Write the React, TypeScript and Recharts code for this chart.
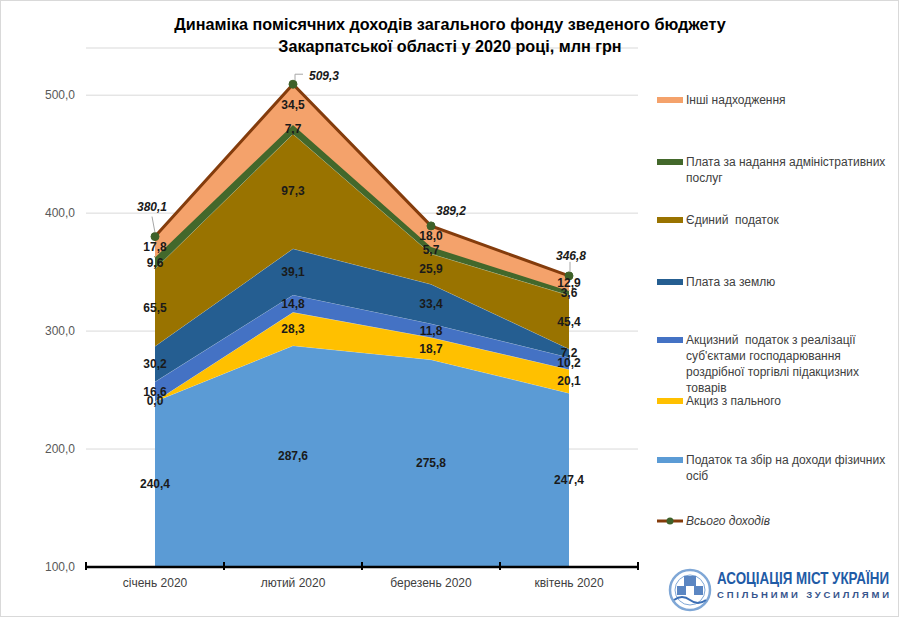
import React from 'react';
import { ComposedChart, Area, Line, XAxis, YAxis, CartesianGrid, LabelList } from 'recharts';

const MONTHS = ['січень 2020', 'лютий 2020', 'березень 2020', 'квітень 2020'];
const PDFO = [240.4, 287.6, 275.8, 247.4];
const FUEL_EXCISE = [0.0, 28.3, 18.7, 20.1];
const RETAIL_EXCISE = [16.6, 14.8, 11.8, 10.2];
const LAND_FEE = [30.2, 39.1, 33.4, 7.2];
const SINGLE_TAX = [65.5, 97.3, 25.9, 45.4];
const ADMIN_FEE = [9.6, 7.7, 5.7, 3.6];
const OTHER = [17.8, 34.5, 18.0, 12.9];
const TOTAL = [380.1, 509.3, 389.2, 346.8];
const Y_TICKS = [100, 200, 300, 400, 500];
const Y_MIN = 100;
const Y_MAX = 540;

const TITLE_LINES = [
  'Динаміка помісячних доходів загального фонду зведеного бюджету',
  'Закарпатської області у 2020 році, млн грн',
];
const TOTAL_NAME = 'Всього доходів';
const LOGO_LINES = ['АСОЦІАЦІЯ МІСТ УКРАЇНИ', 'СПІЛЬНИМИ ЗУСИЛЛЯМИ'];

// bottom to top
const SERIES = [
  { key: 'pdfo', name: ['Податок та збір на доходи фізичних', 'осіб'], values: PDFO, color: '#5B9BD5' },
  { key: 'fuel', name: ['Акциз з пального'], values: FUEL_EXCISE, color: '#FFC000' },
  { key: 'retail', name: ['Акцизний  податок з реалізації', "суб'єктами господарювання", 'роздрібної торгівлі підакцизних', 'товарів'], values: RETAIL_EXCISE, color: '#4472C4' },
  { key: 'land', name: ['Плата за землю'], values: LAND_FEE, color: '#255E91' },
  { key: 'single', name: ['Єдиний  податок'], values: SINGLE_TAX, color: '#997300' },
  { key: 'admin', name: ['Плата за надання адміністративних', 'послуг'], values: ADMIN_FEE, color: '#43682B' },
  { key: 'other', name: ['Інші надходження'], values: OTHER, color: '#F4A26B' },
];

const data = MONTHS.map((m, i) => {
  const row: any = { idx: i, month: m, total: TOTAL[i] };
  let cum = 0;
  SERIES.forEach((s) => {
    const v = s.values[i];
    const base = Math.max(cum, Y_MIN);
    const top = cum + v;
    row[s.key] = v;
    row['mid_' + s.key] = (base + top) / 2;
    cum = top;
  });
  return row;
});

const fmt = (v: number) => Number(v).toFixed(1).replace('.', ',');

const FONT = '"Liberation Sans", Arial, sans-serif';

const XTick = (props: any) => {
  const { x, y, payload } = props;
  const v = payload.value;
  if (Number.isInteger(v)) {
    return (
      <text x={x} y={y + 20} textAnchor="middle" fontSize={12} fill="#404040" fontFamily={FONT}>
        {MONTHS[v]}
      </text>
    );
  }
  return <line x1={x} x2={x} y1={y - 5} y2={y + 3} stroke="#000" strokeWidth={2} />;
};

const MidLabel = (props: any) => {
  const { x, y, value } = props;
  return (
    <text x={x} y={y} dy={4} textAnchor="middle" fontSize={12} fontWeight={700} fill="#1a1a1a" fontFamily={FONT}>
      {fmt(value)}
    </text>
  );
};

const TOTAL_LABEL_LAYOUT = [
  { dx: -3, dy: -30, anchor: 'middle', leader: [[0, -4], [-3, -20]] },
  { dx: 16, dy: -8, anchor: 'start', leader: [[2, -4], [2, -10], [10, -10]] },
  { dx: 20, dy: -15, anchor: 'middle', leader: null },
  { dx: 2, dy: -20, anchor: 'middle', leader: [[1, -4], [1, -14]] },
];

const TotalLabel = (props: any) => {
  const { x, y, value, index } = props;
  const l = TOTAL_LABEL_LAYOUT[index];
  return (
    <g>
      {l.leader && (
        <polyline
          points={l.leader.map((p: number[]) => `${x + p[0]},${y + p[1]}`).join(' ')}
          fill="none"
          stroke="#A6A6A6"
          strokeWidth={1}
        />
      )}
      <text x={x + l.dx} y={y + l.dy} dy={4} textAnchor={l.anchor} fontSize={12} fontWeight={700} fontStyle="italic" fill="#1a1a1a" fontFamily={FONT}>
        {fmt(value)}
      </text>
    </g>
  );
};

const LEGEND_ORDER = ['other', 'admin', 'single', 'land', 'retail', 'fuel', 'pdfo'];
const LEGEND_Y = [100, 162, 220, 282, 340, 401, 460];
const LEGEND_TOTAL_Y = 521;

export default function App() {
  return (
    <div style={{ position: 'absolute', left: 0, top: 0, width: 899, height: 617, background: '#fff', fontFamily: FONT }}>
      <div style={{ position: 'absolute', left: 0, top: 0 }}>
        <ComposedChart width={899} height={617} data={data} margin={{ top: 48, right: 261, bottom: 0, left: 0 }}>
          <CartesianGrid vertical={false} stroke="#D9D9D9" />
          <XAxis
            dataKey="idx"
            type="number"
            domain={[-0.5, 3.5]}
            ticks={[-0.5, 0, 0.5, 1, 1.5, 2, 2.5, 3, 3.5]}
            interval={0}
            tick={<XTick />}
            tickLine={false}
            tickSize={0}
            tickMargin={0}
            height={50}
            axisLine={{ stroke: '#000', strokeWidth: 2.5 }}
          />
          <YAxis
            type="number"
            domain={[Y_MIN, Y_MAX]}
            ticks={Y_TICKS}
            allowDataOverflow
            axisLine={false}
            tickLine={false}
            tickSize={0}
            tickMargin={11}
            width={86}
            tick={{ fill: '#595959', fontSize: 12, fontFamily: FONT }}
            tickFormatter={fmt}
          />
          {SERIES.map((s) => (
            <Area
              key={s.key}
              type="linear"
              dataKey={s.key}
              stackId="s"
              fill={s.color}
              fillOpacity={1}
              stroke={s.key === 'admin' ? s.color : '#ffffff'}
              strokeOpacity={s.key === 'admin' ? 1 : 0.45}
              strokeWidth={s.key === 'admin' ? 2.5 : 0.75}
              isAnimationActive={false}
              dot={false}
              activeDot={false}
            />
          ))}
          <Line
            type="linear"
            dataKey="total"
            stroke="#843C0C"
            strokeWidth={3}
            dot={{ r: 4, fill: '#3E6129', stroke: '#3E6129', strokeWidth: 1 }}
            activeDot={false}
            isAnimationActive={false}
          >
            <LabelList dataKey="total" content={<TotalLabel />} />
          </Line>
          {SERIES.map((s) => (
            <Line
              key={'lbl_' + s.key}
              type="linear"
              dataKey={'mid_' + s.key}
              stroke="none"
              dot={false}
              activeDot={false}
              legendType="none"
              isAnimationActive={false}
            >
              <LabelList dataKey={s.key} content={<MidLabel />} />
            </Line>
          ))}
        </ComposedChart>
      </div>
      <svg width={899} height={617} style={{ position: 'absolute', left: 0, top: 0, pointerEvents: 'none' }}>
        <rect x={0.5} y={0.5} width={898} height={616} fill="none" stroke="#D9D9D9" />
        {TITLE_LINES.map((t, i) => (
          <text key={i} x={450} y={30 + i * 22} textAnchor="middle" fontSize={16.2} fontWeight={700} fill="#000" fontFamily={FONT}>
            {t}
          </text>
        ))}
        {LEGEND_ORDER.map((k, i) => {
          const s = SERIES.find((q) => q.key === k)!;
          const cy = LEGEND_Y[i];
          return (
            <g key={k}>
              <rect x={657} y={cy - 3} width={26} height={6} fill={s.color} />
              {s.name.map((ln, j) => (
                <text key={j} x={686} y={cy + 4 + j * 16} fontSize={12} fill="#404040" fontFamily={FONT} style={{ whiteSpace: 'pre' }}>
                  {ln}
                </text>
              ))}
            </g>
          );
        })}
        <g>
          <line x1={657} x2={683} y1={LEGEND_TOTAL_Y} y2={LEGEND_TOTAL_Y} stroke="#843C0C" strokeWidth={3} />
          <circle cx={670} cy={LEGEND_TOTAL_Y} r={3.5} fill="#3E6129" />
          <text x={686} y={LEGEND_TOTAL_Y + 4} fontSize={12} fontStyle="italic" fill="#404040" fontFamily={FONT}>
            {TOTAL_NAME}
          </text>
        </g>
        <g>
          <circle cx={690} cy={590} r={20} fill="#fff" stroke="#7FA7D6" strokeWidth={2.5} />
          <circle cx={690} cy={590} r={15} fill="none" stroke="#7FA7D6" strokeWidth={1} />
          <rect x={684} y={576} width={12} height={10} fill="#5B86C2" />
          <rect x={677} y={586} width={9} height={9} fill="#5B86C2" />
          <rect x={694} y={586} width={9} height={9} fill="#5B86C2" />
          <path d="M674 600 Q682 594 690 600 T706 600" fill="none" stroke="#3C6FB5" strokeWidth={2} />
          <g transform="translate(717,584) scale(1,1.22)">
            <text x={0} y={0} fontSize={13} fontWeight={700} fill="#1F5BA6" fontFamily={FONT} textLength={172} lengthAdjust="spacingAndGlyphs">
              {LOGO_LINES[0]}
            </text>
          </g>
          <text x={717} y={598} fontSize={9.5} fontWeight={700} fill="#35548C" fontFamily={FONT} textLength={172} lengthAdjust="spacing">
            {LOGO_LINES[1]}
          </text>
        </g>
      </svg>
    </div>
  );
}
